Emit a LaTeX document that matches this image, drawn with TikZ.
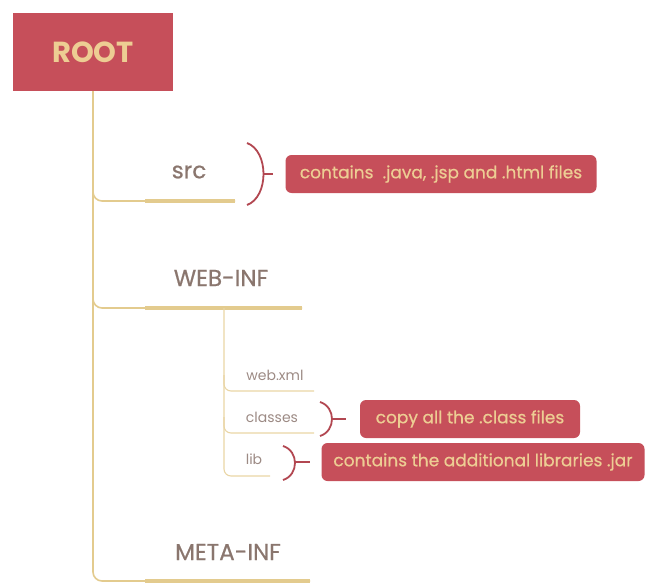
\documentclass[tikz,border=0pt]{standalone}
\usepackage{fontspec}
\setmainfont{Poppins}
\newfontfamily\heavyfont[FakeBold=0.6]{Poppins}
\definecolor{rootred}{HTML}{C64F5A}
\definecolor{cream}{HTML}{EDCD93}
\definecolor{treetan}{HTML}{E3CB8E}
\definecolor{labelgray}{HTML}{8A766E}
\begin{document}
\begin{tikzpicture}[x=1pt, y=-1pt,
    rootbox/.style={fill=rootred, text=cream, font=\fontsize{29}{32}\selectfont\bfseries},
    callout/.style={fill=rootred, text=cream, rounded corners=6pt, minimum height=38,
        font=\fontsize{17}{20}\selectfont\heavyfont},
    dirname/.style={text=labelgray, font=\fontsize{23}{26}\selectfont\heavyfont},
    filename/.style={text=labelgray!85, font=\fontsize{14}{17}\selectfont},
    branch/.style={draw=treetan, line width=1.6pt, rounded corners=9pt},
    twig/.style={draw=treetan!80, line width=1.1pt, rounded corners=7pt},
    bar/.style={draw=treetan, line width=4pt},
    brace/.style={draw=rootred!90!black, line width=1.8pt}]
    \useasboundingbox (0,0) rectangle (645,583);

    \node[rootbox, minimum width=160, minimum height=78] (root) at (93,52) {ROOT};

    % directories
    \node[dirname] (src) at (189,172) {src};
    \node[dirname] (webinf) at (221,278) {WEB-INF};
    \node[dirname] (metainf) at (228,552) {META-INF};

    % files under WEB-INF
    \node[filename] (webxml) at (275,375) {web.xml};
    \node[filename] (classes) at (272,417) {classes};
    \node[filename] (lib) at (254,459) {lib};

    % notes
    \node[callout, minimum width=311] (srcnote) at (441,174) {contains~ .java, .jsp and .html files};
    \node[callout, minimum width=220] (classnote) at (470,419) {copy all the .class files};
    \node[callout, minimum width=323] (libnote) at (483,462) {contains the additional libraries .jar};

    % tree lines
    \coordinate (srcfork) at (93,180);
    \coordinate (srcbar) at (145,201);
    \coordinate (srcend) at (235,201);
    \coordinate (webfork) at (93,288);
    \coordinate (webbar) at (145,308);
    \coordinate (webend) at (302,308);
    \coordinate (metabar) at (145,581);
    \coordinate (metaend) at (310,581);

    \draw[branch] (root.south) |- (metaend);
    \draw[branch] (srcfork) |- (srcend);
    \draw[branch] (webfork) |- (webend);
    \draw[bar] (srcbar) -- (srcend);
    \draw[bar] (webbar) -- (webend);
    \draw[bar] (metabar) -- (metaend);

    \coordinate (subroot) at (224,308);
    \coordinate (xmlend) at (314,391);
    \coordinate (classend) at (314,433);
    \coordinate (libend) at (270,476);
    \draw[twig] (subroot) |- (libend);
    \draw[twig] (subroot |- webxml) |- (xmlend);
    \draw[twig] (subroot |- classes) |- (classend);

    % braces
    \draw[brace] (247,143) .. controls (269,151) and (269,197) .. (247,205);
    \draw[brace] (264,174) -- (srcnote.west -| 273,0);
    \draw[brace] (320,402) .. controls (336,407) and (336,431) .. (320,436);
    \draw[brace] (332,419) -- (classnote.west -| 346,0);
    \draw[brace] (283,446) .. controls (299,451) and (299,475) .. (283,480);
    \draw[brace] (295,462) -- (libnote.west -| 310,0);
\end{tikzpicture}
\end{document}
